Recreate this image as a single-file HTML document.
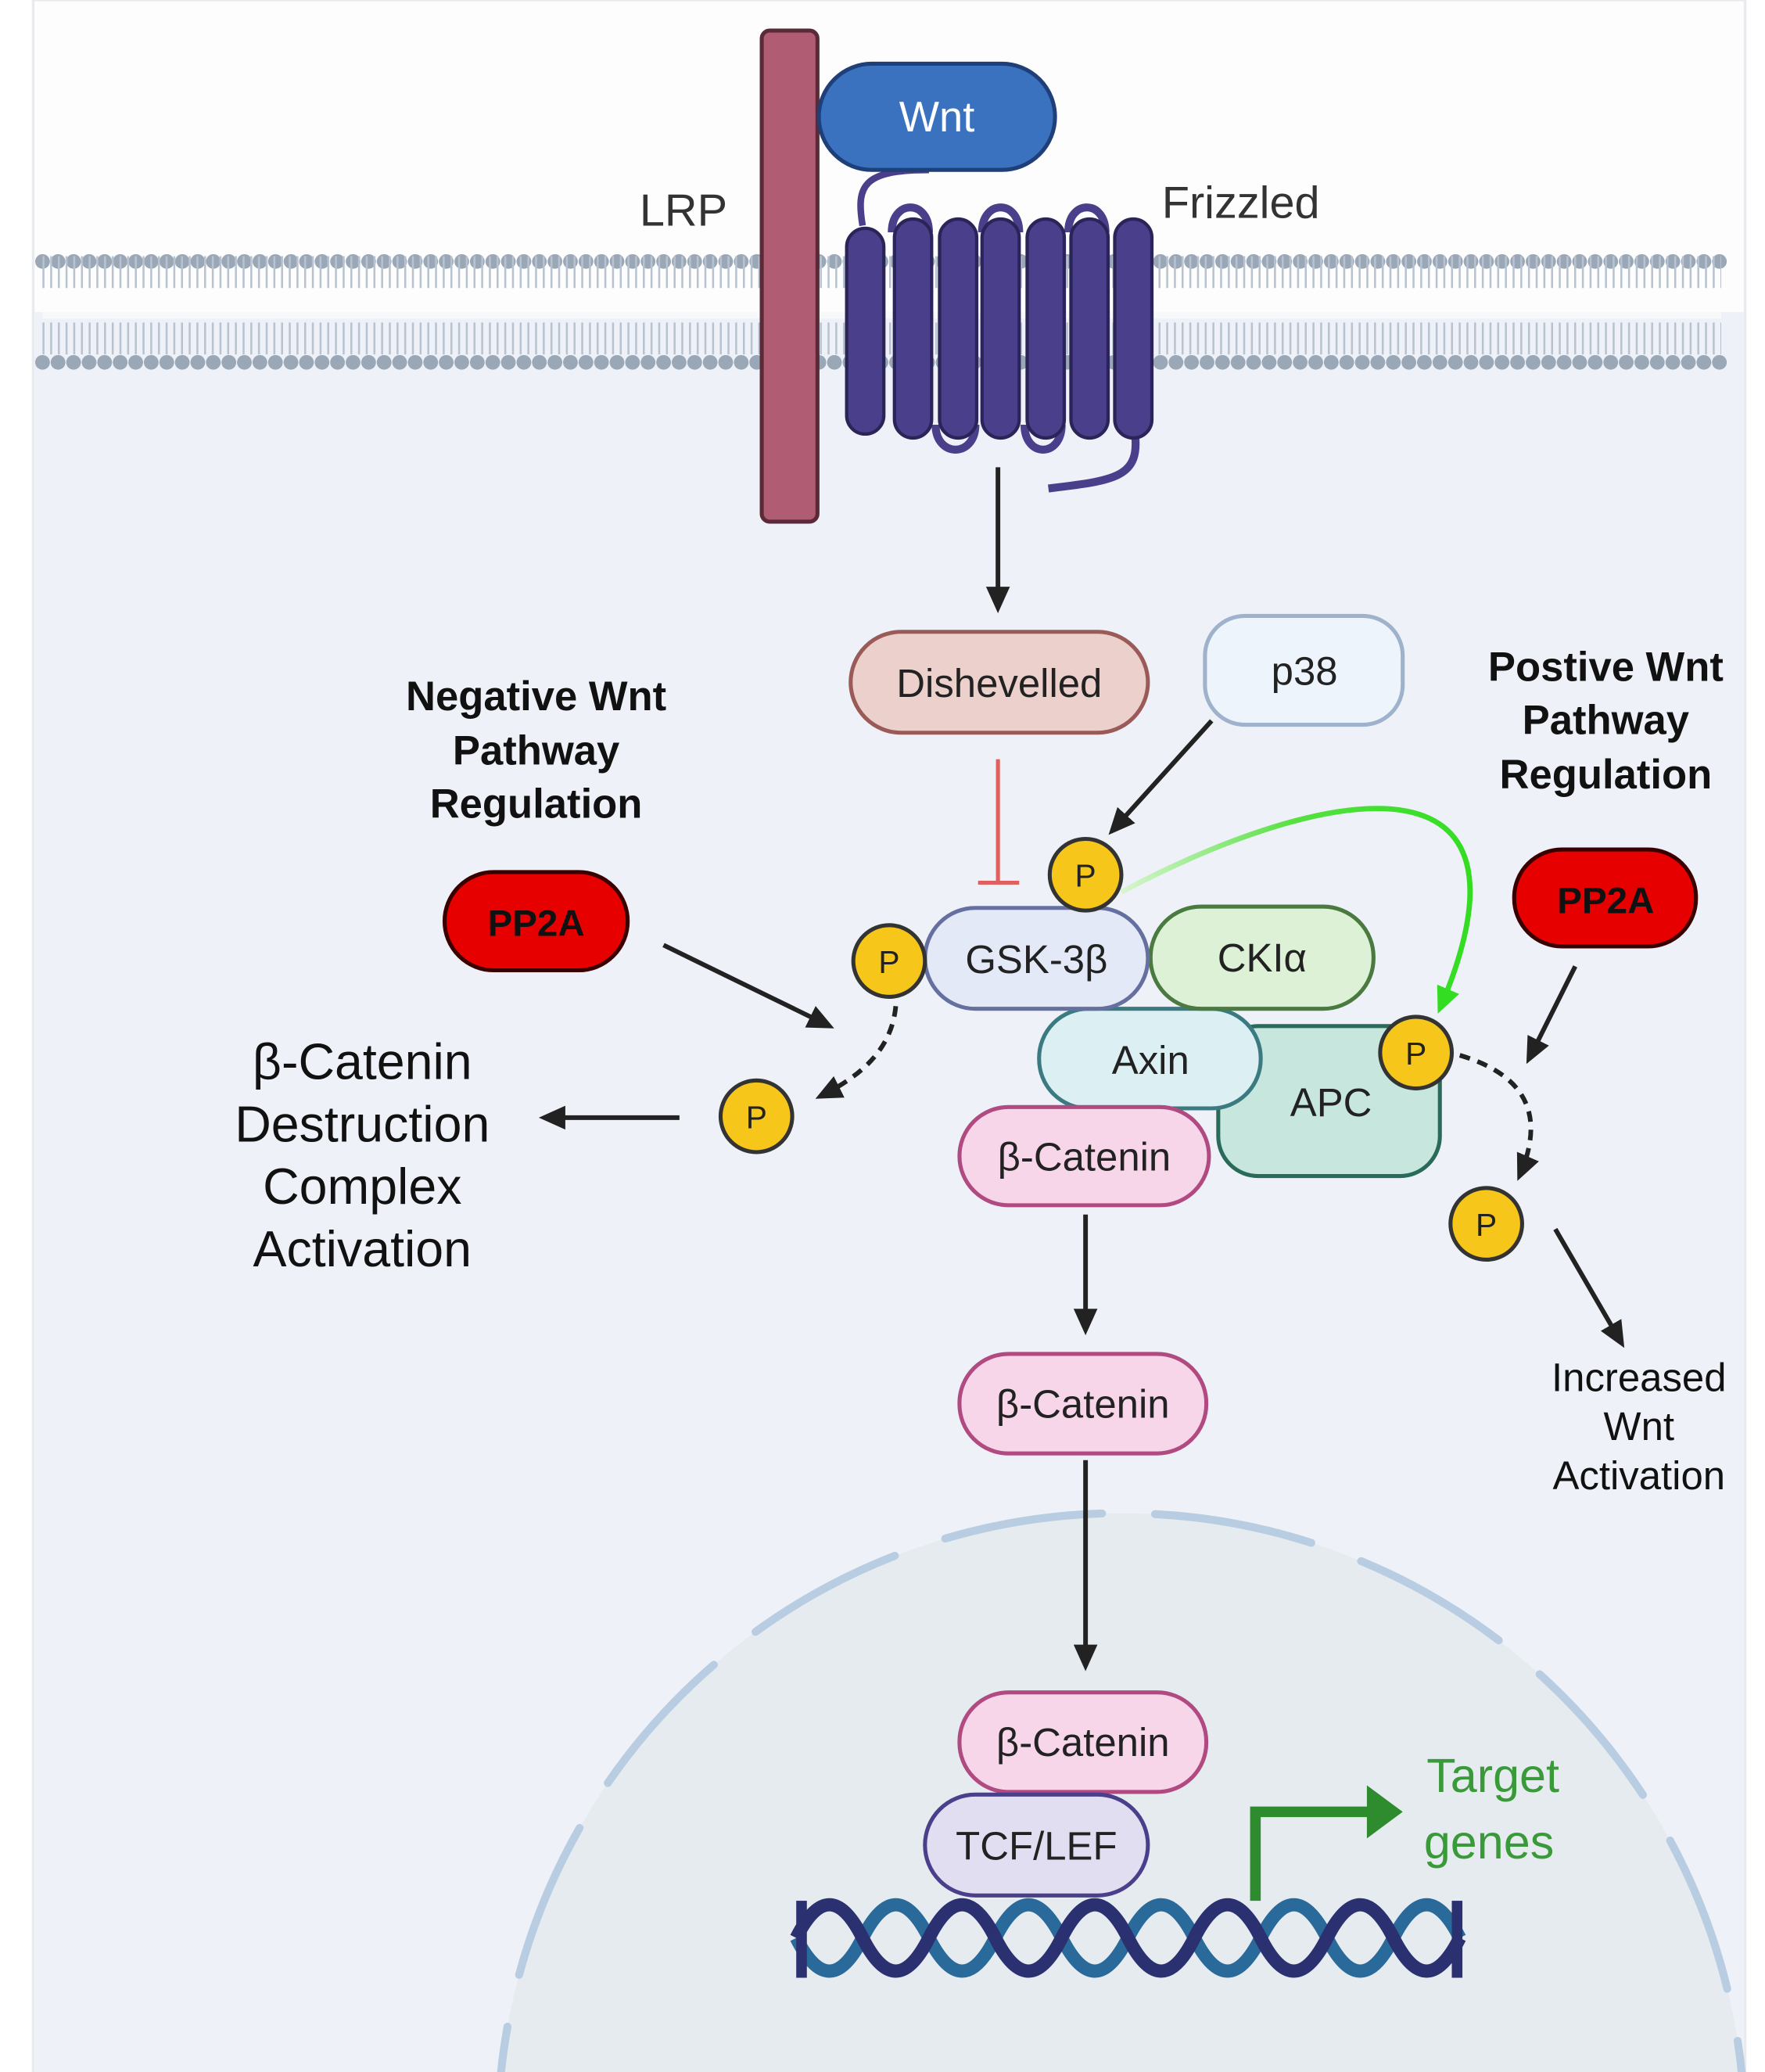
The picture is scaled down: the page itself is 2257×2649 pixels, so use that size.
<!DOCTYPE html>
<html><head><meta charset="utf-8"><style>
html,body{margin:0;padding:0;background:#fff;width:2257px;height:2649px;overflow:hidden;}
svg{display:block;}
text{font-family:"Liberation Sans","DejaVu Sans",sans-serif;}
</style></head><body>
<svg width="2257" height="2649" viewBox="0 0 1330 1561" preserveAspectRatio="none" xmlns="http://www.w3.org/2000/svg">
<defs>
<marker id="ahb" markerWidth="22" markerHeight="22" refX="16" refY="11" orient="auto" markerUnits="userSpaceOnUse" viewBox="0 0 22 22"><path d="M0,2 L20,11 L0,20 z" fill="#222"/></marker>
<marker id="ahg" markerWidth="22" markerHeight="22" refX="16" refY="11" orient="auto" markerUnits="userSpaceOnUse" viewBox="0 0 22 22"><path d="M0,2 L20,11 L0,20 z" fill="#33dd22"/></marker>
<linearGradient id="gg" x1="0" y1="0" x2="1" y2="0"><stop offset="0" stop-color="#d8f5d0"/><stop offset="0.5" stop-color="#55e040"/><stop offset="1" stop-color="#33dd22"/></linearGradient>
</defs>
<rect x="0" y="0" width="1330" height="1561" fill="#fff"/>
<rect x="25" y="0" width="1290" height="1561" fill="#fdfdfe" stroke="#e8eaee" stroke-width="2"/>
<rect x="26" y="235" width="1288" height="1326" fill="#eef2f8"/>
<circle cx="845" cy="1610" r="470" fill="#e6ebf0"/>
<circle cx="845" cy="1610" r="470" fill="none" stroke="#b9cde2" stroke-width="6" stroke-dasharray="120 40" stroke-linecap="round"/>
<g>
<line x1="32" y1="197" x2="1297" y2="197" stroke="#9aa7b6" stroke-width="11" stroke-dasharray="0.1 11.6" stroke-linecap="round"/>
<line x1="32" y1="273" x2="1297" y2="273" stroke="#9aa7b6" stroke-width="11" stroke-dasharray="0.1 11.6" stroke-linecap="round"/>
<line x1="32" y1="205" x2="1297" y2="205" stroke="#b8c3cf" stroke-width="24" stroke-dasharray="1.5 4.3" />
<line x1="32" y1="255" x2="1297" y2="255" stroke="#b8c3cf" stroke-width="24" stroke-dasharray="1.5 4.3" />
<rect x="32" y="222" width="1265" height="18" fill="#fdfdfe" opacity="0.6"/>
</g>
<rect x="574" y="23" width="42" height="370" rx="6" fill="#b05c72" stroke="#5a2a38" stroke-width="3"/>
<text x="515" y="170" font-size="34" text-anchor="middle" fill="#333">LRP</text>
<g stroke="#2a2458" stroke-width="3" fill="none">
<path d="M650 170 C645 140, 650 128, 700 128" stroke="#4a3f8a" stroke-width="5"/>
<path d="M672 175 C672 150,700 150,700 175 M740 175 C740 150,768 150,768 175 M805 175 C805 150,833 150,833 175" stroke="#4a3f8a" stroke-width="6"/>
<path d="M705 320 C705 345,735 345,735 320 M772 320 C772 345,800 345,800 320" stroke="#4a3f8a" stroke-width="6"/>
<path d="M855 325 C860 360,840 362,790 368" stroke="#4a3f8a" stroke-width="6"/>
</g>
<g fill="#4a3f8a" stroke="#2a2458" stroke-width="2.5">
<rect x="638" y="172" width="28" height="155" rx="14"/>
<rect x="674" y="165" width="28" height="165" rx="14"/>
<rect x="708" y="165" width="28" height="165" rx="14"/>
<rect x="740" y="165" width="28" height="165" rx="14"/>
<rect x="774" y="165" width="28" height="165" rx="14"/>
<rect x="807" y="165" width="28" height="165" rx="14"/>
<rect x="840" y="165" width="28" height="165" rx="14"/>
</g>
<text x="935" y="164" font-size="34" text-anchor="middle" fill="#333">Frizzled</text>
<rect x="617" y="48" width="178" height="80" rx="40" fill="#3a72c0" stroke="#1e3f78" stroke-width="3"/>
<text x="706" y="99" font-size="32" text-anchor="middle" fill="#fff">Wnt</text>
<line x1="752" y1="352" x2="752" y2="458" stroke="#222" stroke-width="3.5" marker-end="url(#ahb)"/>
<rect x="641" y="476" width="224" height="76" rx="38" fill="#ecd0cc" stroke="#9a5a58" stroke-width="3"/>
<text x="753" y="525" font-size="30" text-anchor="middle" fill="#222">Dishevelled</text>
<line x1="752" y1="572" x2="752" y2="665" stroke="#e06060" stroke-width="3"/>
<line x1="737" y1="665" x2="768" y2="665" stroke="#e06060" stroke-width="3"/>
<rect x="908" y="464" width="149" height="82" rx="30" fill="#eef4fc" stroke="#9eb2cc" stroke-width="3"/>
<text x="983" y="516" font-size="30" text-anchor="middle" fill="#222">p38</text>
<line x1="913" y1="543" x2="838" y2="626" stroke="#222" stroke-width="3.5" marker-end="url(#ahb)"/>
<path d="M845 672 C1000 590, 1170 560, 1085 760" stroke="url(#gg)" stroke-width="4" fill="none" marker-end="url(#ahg)"/>
<rect x="918" y="773" width="167" height="113" rx="30" fill="#c6e6de" stroke="#2a6a5a" stroke-width="3"/>
<text x="1003" y="841" font-size="30" text-anchor="middle" fill="#222">APC</text>
<rect x="783" y="760" width="167" height="75" rx="37" fill="#dcf0f4" stroke="#3a7a80" stroke-width="3"/>
<text x="867" y="809" font-size="30" text-anchor="middle" fill="#222">Axin</text>
<rect x="867" y="683" width="168" height="77" rx="38" fill="#dcf1d6" stroke="#4a7a40" stroke-width="3"/>
<text x="951" y="732" font-size="30" text-anchor="middle" fill="#222">CKIα</text>
<rect x="697" y="684" width="168" height="76" rx="38" fill="#e4e9f8" stroke="#6670a0" stroke-width="3"/>
<text x="781" y="733" font-size="30" text-anchor="middle" fill="#222">GSK-3β</text>
<rect x="723" y="834" width="188" height="74" rx="37" fill="#f7d6ea" stroke="#b04a80" stroke-width="3"/>
<text x="817" y="882" font-size="30" text-anchor="middle" fill="#222">β-Catenin</text>
<g fill="#f6c71a" stroke="#333" stroke-width="3">
<circle cx="818" cy="659" r="27"/><circle cx="670" cy="724" r="27"/><circle cx="1067" cy="793" r="27"/><circle cx="570" cy="841" r="27"/><circle cx="1120" cy="922" r="27"/>
</g>
<g font-size="24" text-anchor="middle" fill="#222">
<text x="818" y="668">P</text><text x="670" y="733">P</text><text x="1067" y="802">P</text><text x="570" y="850">P</text><text x="1120" y="931">P</text>
</g>
<line x1="818" y1="915" x2="818" y2="1002" stroke="#222" stroke-width="3.5" marker-end="url(#ahb)"/>
<rect x="723" y="1020" width="186" height="75" rx="37" fill="#f7d6ea" stroke="#b04a80" stroke-width="3"/>
<text x="816" y="1068" font-size="30" text-anchor="middle" fill="#222">β-Catenin</text>
<line x1="818" y1="1100" x2="818" y2="1255" stroke="#222" stroke-width="3.5" marker-end="url(#ahb)"/>
<path d="M600 1440 Q625 1490 650 1440 Q675 1390 700 1440 Q725 1490 750 1440 Q775 1390 800 1440 Q825 1490 850 1440 Q875 1390 900 1440 Q925 1490 950 1440 Q975 1390 1000 1440 Q1025 1490 1050 1440 Q1075 1390 1100 1440" transform="translate(0,20)" stroke="#2a6a9a" stroke-width="10" fill="none"/>
<path d="M600 1480 Q625 1430 650 1480 Q675 1530 700 1480 Q725 1430 750 1480 Q775 1530 800 1480 Q825 1430 850 1480 Q875 1530 900 1480 Q925 1430 950 1480 Q975 1530 1000 1480 Q1025 1430 1050 1480 Q1075 1530 1100 1480" transform="translate(0,-20)" stroke="#2a3070" stroke-width="10" fill="none"/>
<rect x="600" y="1432" width="8" height="58" fill="#2a3070"/><rect x="1094" y="1432" width="8" height="58" fill="#2a3070"/>
<rect x="723" y="1275" width="186" height="75" rx="37" fill="#f7d6ea" stroke="#b04a80" stroke-width="3"/>
<text x="816" y="1323" font-size="30" text-anchor="middle" fill="#222">β-Catenin</text>
<rect x="697" y="1352" width="168" height="76" rx="38" fill="#e2def2" stroke="#4a3f8a" stroke-width="3"/>
<text x="781" y="1401" font-size="30" text-anchor="middle" fill="#222">TCF/LEF</text>
<path d="M946 1432 L946 1365 L1035 1365" stroke="#2e8b2e" stroke-width="8" fill="none"/>
<path d="M1030 1345 L1057 1365 L1030 1385 z" fill="#2e8b2e"/>
<text x="1125" y="1350" font-size="36" text-anchor="middle" fill="#3a9a3a">Target</text>
<text x="1122" y="1400" font-size="36" text-anchor="middle" fill="#3a9a3a">genes</text>
<g font-size="31" font-weight="bold" text-anchor="middle" fill="#111">
<text x="404" y="535">Negative Wnt</text><text x="404" y="576">Pathway</text><text x="404" y="616">Regulation</text>
<text x="1210" y="513">Postive Wnt</text><text x="1210" y="553">Pathway</text><text x="1210" y="594">Regulation</text>
</g>
<rect x="335" y="657" width="138" height="74" rx="37" fill="#e60000" stroke="#3a0000" stroke-width="3"/>
<text x="404" y="705" font-size="28" font-weight="bold" text-anchor="middle" fill="#111">PP2A</text>
<rect x="1141" y="640" width="137" height="73" rx="36" fill="#e60000" stroke="#3a0000" stroke-width="3"/>
<text x="1210" y="688" font-size="28" font-weight="bold" text-anchor="middle" fill="#111">PP2A</text>
<line x1="500" y1="712" x2="625" y2="773" stroke="#222" stroke-width="3.5" marker-end="url(#ahb)"/>
<path d="M675 758 C672 790, 650 810, 618 826" stroke="#222" stroke-width="3.5" fill="none" stroke-dasharray="8 6" marker-end="url(#ahb)"/>
<line x1="512" y1="842" x2="410" y2="842" stroke="#222" stroke-width="3.5" marker-end="url(#ahb)"/>
<g font-size="38" text-anchor="middle" fill="#111">
<text x="273" y="813">β-Catenin</text><text x="273" y="860">Destruction</text><text x="273" y="907">Complex</text><text x="273" y="954">Activation</text>
</g>
<line x1="1187" y1="728" x2="1152" y2="798" stroke="#222" stroke-width="3.5" marker-end="url(#ahb)"/>
<path d="M1100 795 C1150 810, 1165 840, 1145 886" stroke="#222" stroke-width="3.5" fill="none" stroke-dasharray="8 6" marker-end="url(#ahb)"/>
<line x1="1172" y1="926" x2="1222" y2="1012" stroke="#222" stroke-width="3.5" marker-end="url(#ahb)"/>
<g font-size="30" text-anchor="middle" fill="#111">
<text x="1235" y="1048">Increased</text><text x="1235" y="1085">Wnt</text><text x="1235" y="1122">Activation</text>
</g>
</svg>
</body></html>
